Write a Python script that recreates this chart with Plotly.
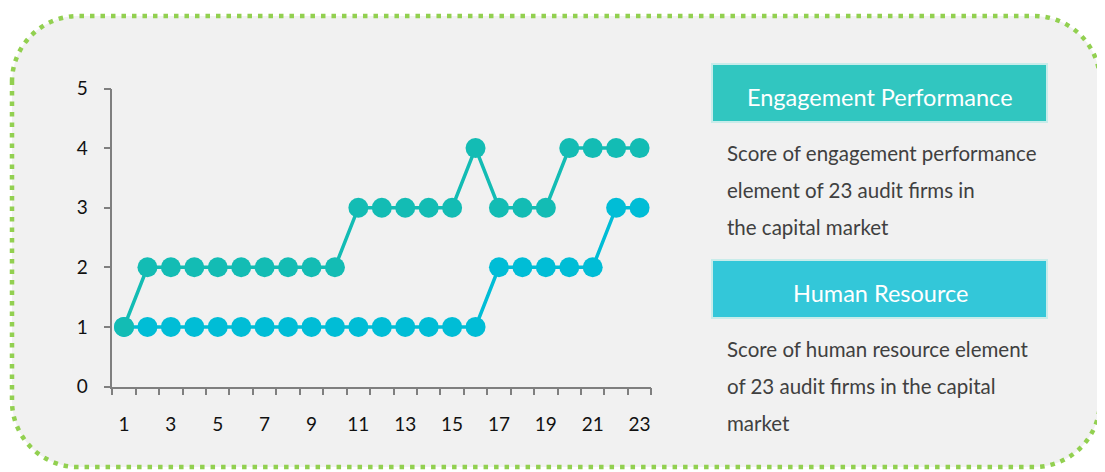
import plotly.graph_objects as go

# ---- data ----
firms = list(range(1, 24))
engagement_performance = [1, 2, 2, 2, 2, 2, 2, 2, 2, 2, 3, 3, 3, 3, 3, 4, 3, 3, 3, 4, 4, 4, 4]
human_resource = [1, 1, 1, 1, 1, 1, 1, 1, 1, 1, 1, 1, 1, 1, 1, 1, 2, 2, 2, 2, 2, 3, 3]
x_tick_values = list(range(1, 24, 2))
x_tick_labels = [str(v) for v in x_tick_values]
y_ticks = [0, 1, 2, 3, 4, 5]
legend_titles = ["Engagement Performance", "Human Resource"]
legend_texts = [
    ["Score of engagement performance", "element of 23 audit firms in", "the capital market"],
    ["Score of human resource element", "of 23 audit firms in the capital", "market"],
]

# page has an 8px body margin: figure placed at (8, 8)
OFF = 8
W, H = 1105 - OFF, 472 - OFF
C_ENG = "#13BCB4"
C_HR = "#00BDD6"
BOX_COLORS = ["#31C6C0", "#33C7D9"]
FONT = "Lato"


def px(x):
    return (x - OFF) / W


def py(y):
    return 1 - (y - OFF) / H


fig = go.Figure()
fig.add_trace(go.Scatter(
    x=firms, y=human_resource, mode="lines+markers", name="Human Resource",
    line=dict(color=C_HR, width=3.5), marker=dict(color=C_HR, size=20),
    cliponaxis=False))
fig.add_trace(go.Scatter(
    x=firms, y=engagement_performance, mode="lines+markers", name="Engagement Performance",
    line=dict(color=C_ENG, width=3.5), marker=dict(color=C_ENG, size=20),
    cliponaxis=False))

# rounded dotted border (cubic corners)
L, T, R, B, rad = 12, 16, 1100, 467, 66
k = 0.5523 * rad
path = (
    f"M {px(L)},{py(T + rad)} "
    f"C {px(L)},{py(T + rad - k)} {px(L + rad - k)},{py(T)} {px(L + rad)},{py(T)} "
    f"L {px(R - rad)},{py(T)} "
    f"C {px(R - rad + k)},{py(T)} {px(R)},{py(T + rad - k)} {px(R)},{py(T + rad)} "
    f"L {px(R)},{py(B - rad)} "
    f"C {px(R)},{py(B - rad + k)} {px(R - rad + k)},{py(B)} {px(R - rad)},{py(B)} "
    f"L {px(L + rad)},{py(B)} "
    f"C {px(L + rad - k)},{py(B)} {px(L)},{py(B - rad + k)} {px(L)},{py(B - rad)} Z"
)
shapes = [dict(type="path", xref="paper", yref="paper", path=path,
               fillcolor="#F1F1F1", line=dict(color="#92D050", width=4.5, dash="4.5px,6px"),
               layer="below")]

annotations = []
box_tops = [64, 260]
for i, top in enumerate(box_tops):
    shapes.append(dict(type="rect", xref="paper", yref="paper",
                       x0=px(712), x1=px(1047), y0=py(top), y1=py(top + 58),
                       fillcolor=BOX_COLORS[i], line=dict(color="#C8ECEA", width=2),
                       layer="below"))
    annotations.append(dict(xref="paper", yref="paper", x=px(880), y=py(top + 33),
                            text=legend_titles[i], showarrow=False, xanchor="center",
                            yanchor="middle", font=dict(family=FONT, size=23.5, color="white")))
    for j, line in enumerate(legend_texts[i]):
        annotations.append(dict(xref="paper", yref="paper", x=px(725), y=py(top + 89 + 37 * j),
                                text=line, showarrow=False, xanchor="left", yanchor="middle",
                                font=dict(family=FONT, size=20.5, color="#404040")))

fig.update_layout(
    width=W, height=H, margin=dict(l=0, r=0, t=0, b=0, pad=0, autoexpand=False),
    paper_bgcolor="white", plot_bgcolor="rgba(0,0,0,0)",
    showlegend=False, shapes=shapes, annotations=annotations,
    font=dict(family=FONT, color="#111111"),
    xaxis=dict(domain=[px(112.3), px(651.3)], range=[0.5, 23.5], showgrid=False,
               automargin=False,
               zeroline=False, showline=True, linecolor="#7F7F7F", linewidth=1.5,
               tickmode="array", tickvals=x_tick_values, ticktext=x_tick_labels,
               ticks="outside", ticklen=20, tickcolor="rgba(0,0,0,0)",
               tickfont=dict(size=19, color="#111111"),
               minor=dict(tickvals=[v + 0.5 for v in range(0, 24)], ticks="outside",
                          ticklen=7, tickcolor="#7F7F7F", tickwidth=1.5, showgrid=False)),
    yaxis=dict(domain=[py(386.5), py(88.5)], range=[0, 5], showgrid=False,
               automargin=False,
               zeroline=False, showline=True, linecolor="#7F7F7F", linewidth=1.5,
               tickmode="array", tickvals=y_ticks, ticks="outside", ticklen=7,
               tickcolor="#7F7F7F", tickwidth=1.5, ticklabelstandoff=12,
               tickfont=dict(size=19, color="#111111")),
)

fig.write_html("out.html")
